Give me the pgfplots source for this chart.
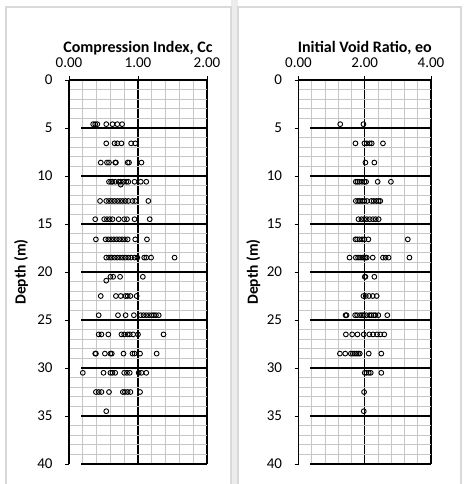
\documentclass[border=0pt]{standalone}
\usepackage{pgfplots}
\pgfplotsset{compat=1.18}
\usepackage{pgfplotstable}
\usepackage{fontspec}
\setmainfont{Carlito}

% Compression index Cc against sample depth (m)
\pgfplotstableread{
cc depth
0.35 4.6
0.38 4.6
0.41 4.6
0.54 4.6
0.63 4.6
0.70 4.6
0.77 4.6
0.54 6.6
0.66 6.6
0.70 6.6
0.76 6.6
0.90 6.6
0.96 6.6
0.46 8.6
0.55 8.6
0.58 8.6
0.67 8.6
0.68 8.6
0.85 8.6
0.87 8.6
1.05 8.6
0.58 10.6
0.61 10.6
0.63 10.6
0.67 10.6
0.72 10.6
0.75 10.6
0.79 10.6
0.83 10.6
0.86 10.6
0.95 10.6
1.04 10.6
1.12 10.6
0.75 10.9
0.45 12.6
0.54 12.6
0.58 12.6
0.62 12.6
0.66 12.6
0.70 12.6
0.74 12.6
0.78 12.6
0.82 12.6
0.86 12.6
0.92 12.6
0.96 12.6
1.15 12.6
0.38 14.5
0.51 14.5
0.55 14.5
0.59 14.5
0.63 14.5
0.72 14.5
0.80 14.5
0.84 14.5
0.95 14.5
1.17 14.5
0.39 16.6
0.53 16.6
0.57 16.6
0.61 16.6
0.65 16.6
0.69 16.6
0.73 16.6
0.77 16.6
0.81 16.6
0.85 16.6
0.96 16.6
1.13 16.6
0.54 18.5
0.58 18.5
0.62 18.5
0.66 18.5
0.70 18.5
0.74 18.5
0.78 18.5
0.82 18.5
0.86 18.5
0.90 18.5
0.95 18.5
0.99 18.5
1.09 18.5
1.12 18.5
1.19 18.5
1.53 18.5
0.60 20.5
0.64 20.5
0.74 20.5
1.07 20.5
0.54 20.9
0.46 22.5
0.68 22.5
0.75 22.5
0.82 22.5
0.85 22.5
0.89 22.5
0.98 22.5
0.43 24.5
0.71 24.5
0.82 24.5
0.94 24.5
1.04 24.5
1.08 24.5
1.12 24.5
1.16 24.5
1.20 24.5
1.23 24.5
1.26 24.5
1.30 24.5
0.43 26.5
0.47 26.5
0.57 26.5
0.76 26.5
0.80 26.5
0.85 26.5
0.88 26.5
0.93 26.5
1.00 26.5
1.37 26.5
0.38 28.5
0.39 28.5
0.52 28.5
0.60 28.5
0.62 28.5
0.79 28.5
0.92 28.5
0.95 28.5
1.03 28.5
1.27 28.5
0.20 30.5
0.50 30.5
0.60 30.5
0.63 30.5
0.67 30.5
0.80 30.5
0.84 30.5
0.88 30.5
1.01 30.5
1.05 30.5
1.12 30.5
0.39 32.5
0.43 32.5
0.47 32.5
0.58 32.5
0.78 32.5
0.81 32.5
0.85 32.5
0.89 32.5
1.03 32.5
0.54 34.5
}\ccdata

% Initial void ratio eo against sample depth (m)
\pgfplotstableread{
eo depth
1.26 4.6
1.96 4.6
1.72 6.6
1.99 6.6
2.06 6.6
2.15 6.6
2.21 6.6
2.55 6.6
2.02 8.6
2.29 8.6
1.73 10.6
1.78 10.6
1.84 10.6
1.92 10.6
1.99 10.6
2.04 10.6
2.39 10.6
2.79 10.6
1.73 12.6
1.80 12.6
1.85 12.6
1.92 12.6
1.99 12.6
2.07 12.6
2.20 12.6
2.27 12.6
2.35 12.6
2.42 12.6
2.47 12.6
1.81 14.5
1.90 14.5
1.98 14.5
2.06 14.5
2.15 14.5
2.25 14.5
2.33 14.5
2.42 14.5
1.72 16.6
1.77 16.6
1.84 16.6
1.92 16.6
1.99 16.6
2.11 16.6
3.30 16.6
1.54 18.5
1.73 18.5
1.80 18.5
1.86 18.5
1.92 18.5
1.97 18.5
2.02 18.5
2.06 18.5
2.24 18.5
2.55 18.5
2.63 18.5
2.72 18.5
3.35 18.5
2.00 20.5
2.02 20.5
2.29 20.5
1.96 22.5
2.03 22.5
2.13 22.5
2.24 22.5
2.36 22.5
1.42 24.5
1.45 24.5
1.71 24.5
1.77 24.5
1.86 24.5
1.92 24.5
1.97 24.5
2.05 24.5
2.14 24.5
2.20 24.5
2.27 24.5
2.32 24.5
2.41 24.5
2.68 24.5
1.43 26.5
1.62 26.5
1.78 26.5
1.97 26.5
2.14 26.5
2.25 26.5
2.37 26.5
2.47 26.5
2.59 26.5
1.25 28.5
1.41 28.5
1.58 28.5
1.64 28.5
1.70 28.5
1.75 28.5
1.80 28.5
1.85 28.5
2.12 28.5
2.50 28.5
2.00 30.5
2.05 30.5
2.12 30.5
2.18 30.5
2.50 30.5
1.98 32.5
1.97 34.5
}\eodata

\pgfplotsset{
  depthlog/.style={
    scale only axis, height=384pt,
    ymin=0, ymax=40, y dir=reverse,
    axis x line*=top, axis y line*=left,
    axis line style={black, line width=1.6pt},
    ytick={0,5,...,40},
    minor ytick={1,2,3,4,6,7,8,9,11,12,13,14,16,17,18,19,21,22,23,24,26,27,28,29,31,32,33,34,36,37,38,39},
    tick style={black, line width=1pt},
    major tick length=4pt, minor tick length=0pt,
    tick align=outside,
    xmajorgrids, xminorgrids, yminorgrids,
    major grid style={black, line width=1.2pt},
    minor grid style={gray!45, line width=0.9pt},
    ticklabel style={font=\fontsize{15}{18}\selectfont},
    xticklabel style={yshift=5pt},
    yticklabel style={xshift=-9pt},
    /pgf/number format/assume math mode=true,
    title style={font=\bfseries\fontsize{16}{19}\selectfont,
      at={(axis description cs:0.5,1)}, anchor=base, yshift=22pt},
    ylabel style={font=\bfseries\fontsize{15.5}{18}\selectfont, anchor=center},
    ylabel={Depth (m)},
    clip=false,
  },
  soilpts/.style={only marks, mark=o, mark size=2.4pt,
    mark options={black, line width=0.9pt}},
}

\begin{document}
\begin{tikzpicture}
\useasboundingbox (0pt,0pt) rectangle (465pt,-484pt);

% chart frames
\fill[gray!15] (231pt,0pt) rectangle (238pt,-484pt);
\draw[gray!30, line width=1.2pt] (6pt,-500pt) -- (6pt,-7pt) -- (231pt,-7pt) -- (231pt,-500pt);
\draw[gray!30, line width=1.2pt] (238pt,-500pt) -- (238pt,-7pt) -- (461pt,-7pt) -- (461pt,-500pt);

% Compression index
\begin{axis}[depthlog, at={(69pt,-80pt)}, anchor=north west, width=138pt,
  xmin=0, xmax=2, xtick={0,1,2}, xticklabels={0.00,1.00,2.00},
  minor xtick={0.2,0.4,0.6,0.8,1.2,1.4,1.6,1.8},
  title={Compression Index, Cc},
  ylabel style={at={(axis description cs:-0.348,0.5)}}]
  \pgfplotsinvokeforeach{5,10,...,40}{
    \draw[black, line width=1.2pt] (axis cs:0.175,#1) -- (axis cs:2,#1);
  }
  \addplot[soilpts] table[x=cc, y=depth] {\ccdata};
\end{axis}

% Initial void ratio
\begin{axis}[depthlog, at={(298.5pt,-80pt)}, anchor=north west, width=132.5pt,
  xmin=0, xmax=4, xtick={0,2,4}, xticklabels={0.00,2.00,4.00},
  minor xtick={0.4,0.8,1.2,1.6,2.4,2.8,3.2,3.6},
  title={Initial Void Ratio, eo},
  ylabel style={at={(axis description cs:-0.34,0.5)}}]
  \pgfplotsinvokeforeach{5,10,...,40}{
    \draw[black, line width=1.2pt] (axis cs:0.36,#1) -- (axis cs:4,#1);
  }
  \addplot[soilpts] table[x=eo, y=depth] {\eodata};
\end{axis}
\end{tikzpicture}
\end{document}
